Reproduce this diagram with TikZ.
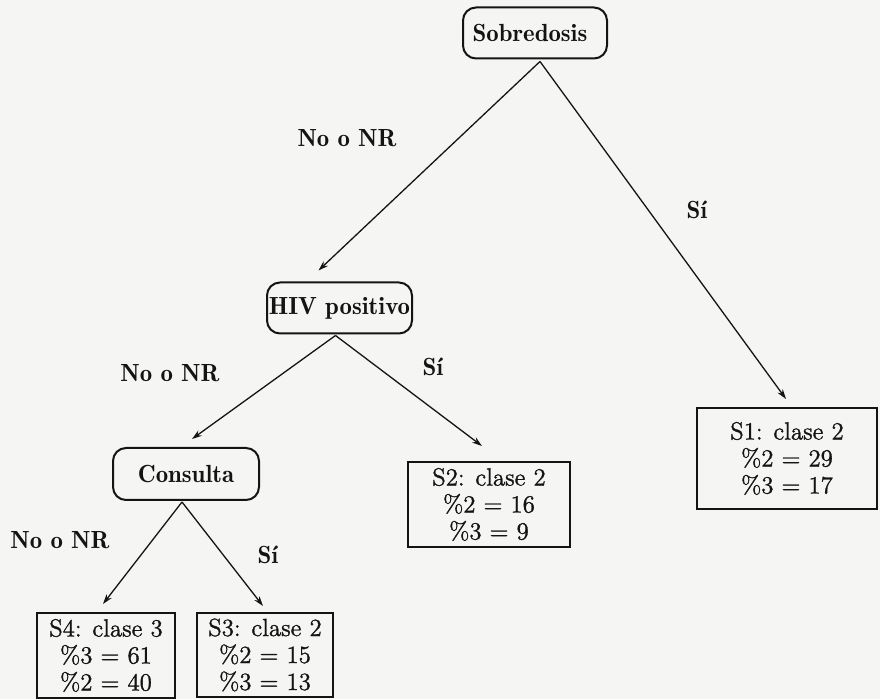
\documentclass[tikz,border=0pt]{standalone}
\usepackage{fontspec}
\usetikzlibrary{arrows.meta,calc}
% a heavier cut of Latin Modern for the leaf boxes
\newfontfamily\leaffont{Latin Modern Roman}[FakeBold=1.2]
\definecolor{paper}{RGB}{245,245,243}
\definecolor{ink}{RGB}{20,20,20}
\begin{document}
\begin{tikzpicture}[x=0.5pt,y=-0.5pt,
  every node/.style={text=ink},
  question/.style={draw=ink,line width=1pt,rounded corners=6.5pt,inner sep=0pt,
    font=\fontsize{12.4}{13.5}\fontseries{b}\selectfont},
  leaf/.style={draw=ink,line width=1pt,inner sep=0pt,align=center,
    font=\leaffont\fontsize{12.4}{13.5}\selectfont},
  answer/.style={inner sep=0pt,font=\fontsize{12.4}{13.5}\fontseries{b}\selectfont},
  branch/.style={draw=ink,line width=0.65pt,-{Stealth[length=5pt,width=3.2pt]}}]
  % page
  \fill[paper] (0,0) rectangle (880,699);
  \useasboundingbox (0,0) rectangle (880,699);

  % questions
  \node[question,minimum width=72pt,minimum height=25.5pt] (sob) at (535,33) {Sobredosis\hspace*{5pt}};
  \node[question,minimum width=72.5pt,minimum height=25.5pt] (hiv) at (339.5,308) {HIV positivo};
  \node[question,minimum width=73pt,minimum height=26pt] (con) at (186,474) {Consulta};

  % leaves
  \node[leaf,minimum width=90pt,minimum height=50.5pt] (s1) at (787,458.5)
    {S1: clase 2\\ \%2 = 29\\ \%3 = 17};
  \node[leaf,minimum width=81pt,minimum height=42.5pt] (s2) at (489,504.5)
    {S2: clase 2\\ \%2 = 16\\ \%3 = 9};
  \node[leaf,minimum width=68pt,minimum height=42pt] (s3) at (265,655)
    {S3: clase 2\\ \%2 = 15\\ \%3 = 13};
  \node[leaf,minimum width=69pt,minimum height=42.5pt] (s4) at (106,655.5)
    {S4: clase 3\\ \%3 = 61\\ \%2 = 40};

  % branches
  \draw[branch] ($(sob.south)+(5,2)$) -- ($(hiv.north)+(-21,-11)$);
  \draw[branch] ($(sob.south)+(5,2)$) -- ($(s1.north)+(-1,-8)$);
  \draw[branch] ($(hiv.south)+(-4,1)$) -- ($(con.north)+(6,-8)$);
  \draw[branch] ($(hiv.south)+(-4,1)$) -- ($(s2.north)+(-7,-15)$);
  \draw[branch] ($(con.south)+(-4,1)$) -- ($(s4.north)+(-3,-8)$);
  \draw[branch] ($(con.south)+(-4,1)$) -- ($(s3.north)+(-2,-6)$);

  % branch labels
  \node[answer] (n1) at (347,138) {No o NR};
  \node[answer] (y1) at (697,210) {Sí};
  \node[answer] (n2) at (170,373) {No o NR};
  \node[answer] (y2) at (433,367) {Sí};
  \node[answer] (n3) at (60,540) {No o NR};
  \node[answer] (y3) at (268,555) {Sí};
\end{tikzpicture}
\end{document}
